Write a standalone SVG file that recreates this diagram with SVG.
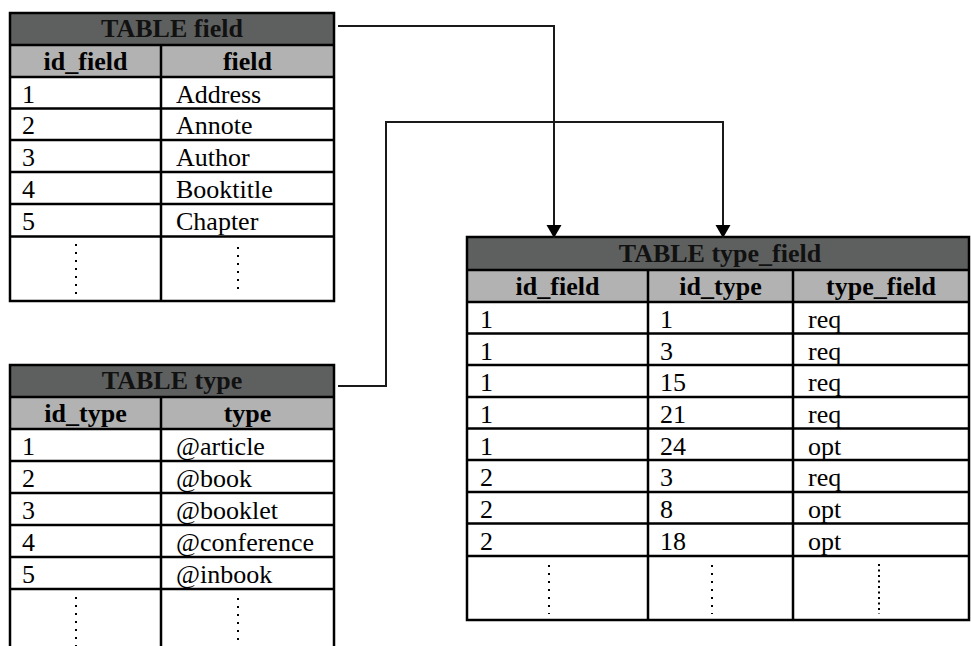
<svg xmlns="http://www.w3.org/2000/svg" width="971" height="646" viewBox="0 0 971 646">
<style>
.title{fill:#5e605f}
.head{fill:#b2b2b2}
.grid{fill:none;stroke:#000;stroke-width:2.5}
.t{font-family:"Liberation Serif","Times New Roman",serif;font-size:26px;fill:#000}
.b{font-weight:bold;text-anchor:middle}
.tt{font-weight:bold;text-anchor:middle;fill:#111}
.dots{stroke:#000;stroke-width:2;fill:none;stroke-dasharray:2 6}
.conn{fill:none;stroke:#1a1a1a;stroke-width:2}
</style>
<defs>
<marker id="arrow" markerUnits="userSpaceOnUse" markerWidth="14" markerHeight="16" viewBox="0 0 14 16" refX="13" refY="8" orient="auto">
<path d="M0,0.5 L13,8 L0,15.5 z" fill="#000"/>
</marker>
</defs>
<rect width="971" height="646" fill="#fff"/>

<g id="table-field">
<rect class="title" x="10" y="13" width="324" height="32"/>
<rect class="head" x="10" y="45" width="324" height="32"/>
<path class="grid" d="M10,13 H334 V301 H10 Z M10,45 H334 M10,77 H334 M10,108.5 H334 M10,140 H334 M10,172 H334 M10,204 H334 M10,236.5 H334 M161,45 V301"/>
<text class="t tt" x="172" y="37">TABLE field</text>
<text class="t b" x="85.5" y="69.5">id_field</text>
<text class="t b" x="247.5" y="69.5">field</text>
<g class="t">
<text x="22" y="102.5">1</text><text x="176" y="102.5">Address</text>
<text x="22" y="134">2</text><text x="176" y="134">Annote</text>
<text x="22" y="166">3</text><text x="176" y="166">Author</text>
<text x="22" y="198">4</text><text x="176" y="198">Booktitle</text>
<text x="22" y="230">5</text><text x="176" y="230">Chapter</text>
</g>
<path class="dots" d="M76,244 V296 M238,247 V292"/>
</g>

<g id="table-type">
<rect class="title" x="10" y="365" width="324" height="32"/>
<rect class="head" x="10" y="397" width="324" height="32"/>
<path class="grid" d="M10,665 V365 H334 V665 M10,397 H334 M10,429 H334 M10,461 H334 M10,493 H334 M10,525 H334 M10,557 H334 M10,589 H334 M161,397 V665"/>
<text class="t tt" x="172" y="389">TABLE type</text>
<text class="t b" x="85.5" y="421.5">id_type</text>
<text class="t b" x="247.5" y="421.5">type</text>
<g class="t">
<text x="22" y="455">1</text><text x="176" y="455">@article</text>
<text x="22" y="487">2</text><text x="176" y="487">@book</text>
<text x="22" y="519">3</text><text x="176" y="519">@booklet</text>
<text x="22" y="551">4</text><text x="176" y="551">@conference</text>
<text x="22" y="583">5</text><text x="176" y="583">@inbook</text>
</g>
<path class="dots" d="M76,597 V650 M238,598 V650"/>
</g>

<g id="table-type-field">
<rect class="title" x="467" y="237" width="502" height="33"/>
<rect class="head" x="467" y="270" width="502" height="32"/>
<path class="grid" d="M467,237 H969 V620 H467 Z M467,270 H969 M467,302 H969 M467,333.5 H969 M467,365 H969 M467,397 H969 M467,428.5 H969 M467,460 H969 M467,492 H969 M467,523.5 H969 M467,556 H969 M648,270 V620 M793,270 V620"/>
<text class="t tt" x="720" y="262">TABLE type_field</text>
<text class="t b" x="557.5" y="294.5">id_field</text>
<text class="t b" x="720.5" y="294.5">id_type</text>
<text class="t b" x="881" y="294.5">type_field</text>
<g class="t">
<text x="480" y="328">1</text><text x="660" y="328">1</text><text x="808" y="328">req</text>
<text x="480" y="359.5">1</text><text x="660" y="359.5">3</text><text x="808" y="359.5">req</text>
<text x="480" y="391">1</text><text x="660" y="391">15</text><text x="808" y="391">req</text>
<text x="480" y="423">1</text><text x="660" y="423">21</text><text x="808" y="423">req</text>
<text x="480" y="454.5">1</text><text x="660" y="454.5">24</text><text x="808" y="454.5">opt</text>
<text x="480" y="486">2</text><text x="660" y="486">3</text><text x="808" y="486">req</text>
<text x="480" y="518">2</text><text x="660" y="518">8</text><text x="808" y="518">opt</text>
<text x="480" y="549.5">2</text><text x="660" y="549.5">18</text><text x="808" y="549.5">opt</text>
</g>
<path class="dots" d="M549,565 V614 M712,565 V614"/>
<path class="dots" style="stroke-dasharray:2 3.5" d="M879,564 V614"/>
</g>

<g id="connectors">
<path class="conn" marker-end="url(#arrow)" d="M338,26 H554 V238"/>
<path class="conn" marker-end="url(#arrow)" d="M338,386 H386 V122 H723 V238"/>
</g>
</svg>
